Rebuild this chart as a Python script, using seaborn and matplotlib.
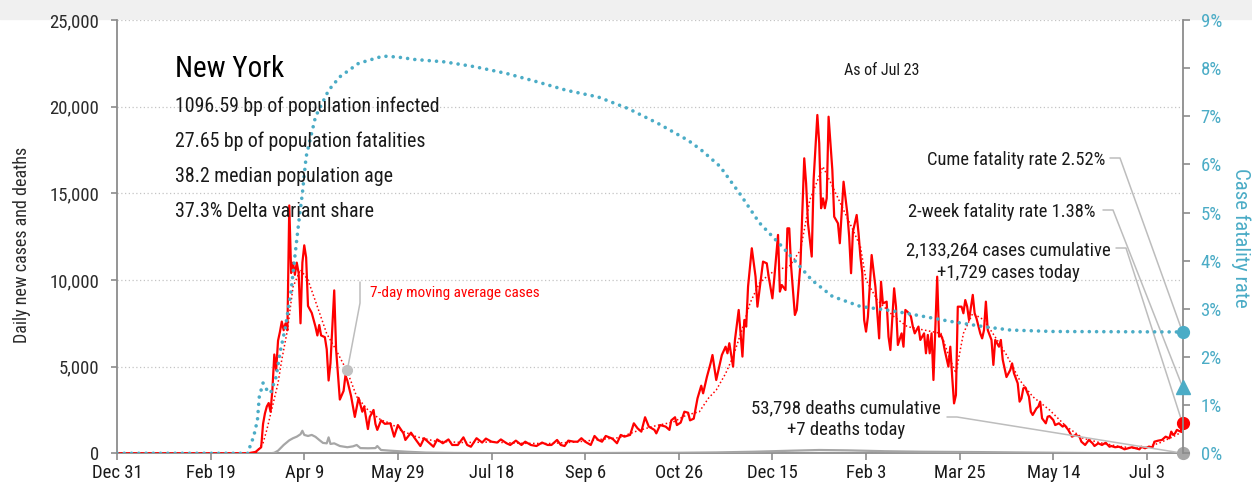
import pandas as pd
import matplotlib
matplotlib.use("Agg")
import matplotlib.pyplot as plt
import matplotlib.dates as mdates
from matplotlib import font_manager
import seaborn as sns

start = pd.Timestamp("2019-12-31")

# daily new cases (days after Dec 31 2019)
case_days = [0, 70, 74, 77, 78, 79, 80, 81, 82, 83, 84, 85, 86, 87, 88, 89, 90, 91, 92, 93, 94, 95, 96, 97,
             98, 99, 100, 101, 102, 104, 106, 107, 108, 109, 111, 112, 113, 114, 116, 117, 119, 121, 122, 123,
             125, 127, 129, 131, 132, 134, 135, 137, 138, 139, 141, 143,
             146, 148, 150, 153, 154, 157, 159, 162, 164, 166, 169, 171, 174, 177, 179, 182, 185, 187, 189,
             192, 195, 197, 200, 203, 205, 208, 210, 213, 216, 218, 221, 224, 227, 230, 232, 235, 237, 239,
             241, 244, 246, 248, 250, 253, 255, 257, 259, 261, 264, 265, 267, 269, 271, 274, 276, 278, 280,
             282, 284, 287, 288, 290, 293, 295, 296, 298, 299, 301, 303, 305, 306, 308,
             310, 312, 313, 315, 317, 318, 320, 321, 323, 325, 326, 327, 329, 330, 332, 334, 335, 336, 337,
             339, 341, 342, 345, 347, 348, 350, 351, 353, 354, 355, 357, 358, 359, 360, 362, 363, 365, 367,
             368, 369, 371, 372, 374, 375, 376, 377, 378, 379, 380, 382, 383, 385, 386, 387, 388, 390, 391,
             392, 393, 395, 396, 397, 398, 399, 400, 401, 403, 405, 407, 408, 409, 411, 412, 413, 415, 416,
             417, 419, 420, 421, 423, 424, 425, 426, 428, 429, 431, 432, 433, 434, 435, 436, 438, 439, 440,
             441, 442, 444, 445, 446, 447, 448, 449, 451, 452, 453, 454, 455, 457, 458, 459, 461, 462, 463,
             464, 465, 467, 468, 469,
             471, 472, 473, 475, 477, 478, 479, 481, 482, 483, 484, 485, 487, 488, 489, 491, 492, 493, 494,
             496, 497, 498, 500, 501, 503, 505, 506, 508, 510, 512, 514, 515, 517, 519, 521, 522, 524, 526,
             528, 530, 531, 533, 535, 537, 538, 540, 542, 544, 546, 547, 549, 551, 553, 554, 556, 558, 560,
             562, 563, 564, 565, 566, 568, 569]
case_vals = [0, 0, 80, 350, 1700, 2300, 2700, 2900, 2400, 3700, 5700, 4800, 6500, 7000, 7600, 7100, 7500, 7100,
             14300, 10400, 11000, 10300, 11000, 10400,
             7500, 11000, 12000, 11300, 8500, 8100, 7300, 6800, 7400, 6800, 6700, 6000, 4200, 5200, 9400, 6000,
             3100, 3600, 4500, 4200,
             3300, 2100, 3200, 2400, 2700, 1400, 2100, 2500, 1700, 1350, 1900, 1700,
             1730, 960, 1630, 1150, 770, 1190, 870, 420, 870, 670, 380, 800, 580, 800, 480, 480, 920, 480, 380,
             870, 620, 850, 670, 620, 800, 580, 480, 730, 480, 670, 480, 420, 620, 480, 480, 770, 480, 420,
             730, 670, 670, 870, 670, 480, 1000, 770, 670, 1000, 870, 800, 580, 1060, 960, 1060, 1730, 1440, 1250,
             2080, 1540, 1350, 1150, 1630, 1540, 1350, 1900, 2080, 1630, 1770, 2400, 2340, 1900, 2000,
             3170, 3900, 3460, 4400, 5200, 5670, 4230, 4710, 5670, 6150, 5770, 6350, 5000, 6540, 8270, 5580, 7690,
             7310, 9620,
             11830, 10190, 8460, 11060, 10960, 10190, 8940, 10100, 12600, 9330, 9710, 9420, 12980, 12980, 10770,
             7980, 8270, 10960, 17020,
             15580, 13270, 11350, 15770, 19520, 17890, 14140, 14710, 14140, 14710, 19420, 16350, 13650, 13270,
             12120, 13850, 15670, 13850, 12500,
             10390, 12790, 13750, 12700, 11350, 10390, 7690, 7020, 7880, 11440, 9620, 6630, 9900, 8650, 8750,
             6730, 5960, 9520, 8460,
             6250, 6920, 6150, 8270, 8080, 7880, 7310, 6920, 7310, 6540, 6920, 5770, 6830, 5770, 6920, 4230,
             10190, 6730, 6830,
             6540, 5960, 5000, 6150, 4420, 2880, 3360, 8460, 8460, 8080, 8840, 8460, 7690, 9140, 8080, 7780,
             6920, 6630, 7110,
             8750, 7110, 6540, 5100, 6540,
             6150, 6540, 5400, 4400, 4800, 5190, 4620, 4040, 2980, 3170, 3750, 3810, 3270, 2400, 2210, 2590,
             2690, 2980, 2020,
             1730, 2110, 2150, 1920, 1630, 1730, 1540, 1630, 1350, 960, 1060, 960, 670, 480, 770, 575, 420, 575,
             480,
             610, 380, 420, 350, 380, 290, 230, 290, 350, 290, 230, 380, 290, 380, 350, 670, 730, 770, 960,
             865, 1250, 1060, 1150, 1350, 1250, 1729]

# 7-day moving average of cases
ma_days = [0, 74, 78, 80, 83, 86, 88, 91, 94, 98, 102, 107, 112, 117, 123, 128, 134, 141, 146, 152, 160, 170,
           185, 200, 215, 230, 245, 258, 268, 278, 288, 297, 304, 311, 316, 320, 325, 329, 334, 338, 343, 348,
           352, 359, 365, 370, 377, 383, 388, 393, 397, 400, 406, 415, 422, 431, 440, 445, 448, 452, 457, 463,
           470, 475, 482, 489, 498, 507, 516, 525, 534, 543, 550, 557, 564, 569]
ma_vals = [0, 0, 600, 1350, 2700, 4050, 5400, 7100, 9600, 10600, 10000, 8460, 6900, 5960, 4710, 3270, 2500,
           1920, 1730, 1300, 950, 700, 620, 650, 580, 560, 650, 800, 900, 1300, 1600, 1800, 2200, 2400, 3200,
           3650, 4600, 5580, 7200, 8650, 9810, 10300, 10580, 10770, 11730, 14620, 16540, 15190, 14040, 12890,
           11920, 10000, 8840, 7880, 7310, 7110, 6920, 5380, 4620, 6920, 8080, 7690, 6540, 5680, 4230, 3270,
           2500, 1540, 865, 610, 420, 290, 350, 610, 960, 1250]

# daily new deaths
death_days = [0, 82, 84, 86, 89, 92, 94, 96, 98, 99, 100, 102, 104, 106, 108, 110, 112, 113, 114, 116, 119,
              123, 126, 128, 130, 134, 138, 139, 141, 146, 155, 165, 180, 200, 250, 280, 300, 320, 340, 360,
              375, 390, 410, 430, 460, 490, 520, 545, 569]
death_vals = [0, 0, 30, 150, 480, 750, 870, 960, 1100, 1300, 1060, 1000, 1060, 950, 770, 600, 575, 920, 540,
              575, 420, 350, 400, 480, 300, 290, 300, 420, 190, 150, 90, 40, 20, 10, 15, 25, 30, 50, 90, 150,
              190, 170, 120, 90, 70, 40, 15, 5, 7]

# case fatality rate, percent
cfr_days = [0, 70, 71, 73, 75, 76, 78, 80, 82, 85, 87, 90, 93, 95, 97, 99, 101, 106, 113, 119, 129, 142, 150,
            159, 175, 191, 208, 224, 240, 257, 273, 289, 305, 312, 322, 333, 343, 355, 362, 371, 382, 397, 414,
            427, 445, 463, 477, 500, 569]
cfr_vals = [0, 0, 0.14, 0.35, 0.69, 1.18, 1.46, 1.32, 1.25, 1.59, 2.08, 2.63, 3.39, 4.09, 4.78, 5.4, 6.16, 6.99,
            7.54, 7.82, 8.1, 8.25, 8.23, 8.18, 8.13, 8.03, 7.89, 7.72, 7.54, 7.4, 7.16, 6.85, 6.5, 6.3, 5.96,
            5.37, 4.79, 4.3, 4.0, 3.6, 3.26, 3.05, 2.96, 2.87, 2.74, 2.63, 2.56, 2.53, 2.52]

last_day = 569
cum_cfr = 2.52
two_week_cfr = 1.38
cases_today = 1729
deaths_today = 7
ma_note_day = 123
ma_note_val = 4800

stats = ["1096.59 bp of population infected",
         "27.65 bp of population fatalities",
         "38.2 median population age",
         "37.3% Delta variant share"]
tick_days = list(range(0, 569, 50))
left_ticks = [0, 5000, 10000, 15000, 20000, 25000]

RED = "#ff0000"
TEAL = "#4bacc6"
GRAY = "#a6a6a6"
SPINE = "#8c8c8c"
LEADER = "#bdbdbd"
INK = "#1a1a1a"

sns.set_style("white")
installed = {f.name for f in font_manager.fontManager.ttflist}
font = next((f for f in ["Liberation Sans Narrow", "Roboto Condensed", "Open Sans Condensed"] if f in installed),
            "DejaVu Sans")
plt.rcParams["font.family"] = [font, "DejaVu Sans"]


def to_dates(days):
    return [start + pd.Timedelta(days=d) for d in days]


def d2x(day):
    return mdates.date2num(start + pd.Timedelta(days=day))


W, H = 1252, 488
fig = plt.figure(figsize=(W / 100, H / 100), dpi=100)
fig.add_artist(plt.Rectangle((0, 1 - 19 / H), 1, 19 / H, transform=fig.transFigure,
                             color="#f0f0f0", zorder=0))
ax = fig.add_axes([117 / W, (H - 453.3) / H, (1182.5 - 117) / W, (453.3 - 20) / H])

sns.lineplot(x=to_dates(death_days), y=death_vals, ax=ax, color=GRAY, linewidth=1.6, zorder=3)
sns.lineplot(x=to_dates(case_days), y=case_vals, ax=ax, color=RED, linewidth=1.6, zorder=4)
sns.lineplot(x=to_dates(ma_days), y=ma_vals, ax=ax, color=RED, linewidth=1.1,
             linestyle=(0, (1, 1.6)), zorder=5)

ax.set_xlim(d2x(0), d2x(last_day))
ax.set_ylim(0, 25000)
ax.set_yticks(left_ticks)
ax.set_yticklabels([f"{v:,}" for v in left_ticks])
ax.set_xticks([d2x(d) for d in tick_days])
ax.set_xticklabels([f"{(start + pd.Timedelta(days=d)):%b} {(start + pd.Timedelta(days=d)).day}"
                    for d in tick_days])
ax.yaxis.grid(True, linestyle=(0, (1, 2)), color="#c4c4c4", linewidth=0.9)
ax.xaxis.grid(False)
ax.set_axisbelow(True)
for s in ["top", "right"]:
    ax.spines[s].set_visible(False)
for s in ["left", "bottom"]:
    ax.spines[s].set_color(SPINE)
    ax.spines[s].set_linewidth(1.3)
ax.tick_params(axis="y", length=4, width=1.2, color=SPINE, pad=9, labelsize=13.5, labelcolor="#2b2b2b")
ax.tick_params(axis="x", length=5, width=1.2, color=SPINE, pad=3, labelsize=13.5, labelcolor=INK)
ax.tick_params(left=True, bottom=True)
ax.set_xlabel("")
ax.set_ylabel("")

ax2 = ax.twinx()
sns.lineplot(x=to_dates(cfr_days), y=cfr_vals, ax=ax2, color=TEAL, linewidth=2.6,
             linestyle=(0, (0.01, 2.0)), dash_capstyle="round", zorder=6)
ax2.set_xlim(d2x(0), d2x(last_day))
ax2.set_ylim(0, 9)
ax2.set_yticks(range(10))
ax2.set_yticklabels([f"{i}%" for i in range(10)])
for s in ["top", "left", "bottom"]:
    ax2.spines[s].set_visible(False)
ax2.spines["right"].set_color(SPINE)
ax2.spines["right"].set_linewidth(1.3)
ax2.tick_params(axis="y", length=5, width=1.2, color=SPINE, pad=8, labelsize=13.5, labelcolor=TEAL)
ax2.set_ylabel("")

# axis titles
fig.text(22 / W, 1 - 245 / H, "Daily new cases and deaths", rotation=90, ha="center", va="center",
         fontsize=13, color="#2b2b2b")
fig.text(1241 / W, 1 - 238 / H, "Case fatality rate", rotation=270, ha="center", va="center",
         fontsize=15, color=TEAL)

# end-of-series markers
xe = d2x(last_day)
ax.plot([xe], [deaths_today], "o", color=GRAY, markersize=8.5, clip_on=False, zorder=8)
ax.plot([xe], [cases_today], "o", color=RED, markersize=8.5, clip_on=False, zorder=8)
ax2.plot([xe], [cum_cfr], "o", color=TEAL, markersize=8.5, clip_on=False, zorder=8)
ax2.plot([xe], [two_week_cfr], "^", color=TEAL, markersize=9.5, clip_on=False, zorder=8)
ax.plot([d2x(ma_note_day)], [ma_note_val], "o", color="#c0c0c0", markersize=7, zorder=8)


# text blocks (pixel positions, measured from the top)
def ftext(px, py, s, **kw):
    fig.text(px / W, 1 - py / H, s, va="baseline", **kw)


ftext(175, 77, "New York", fontsize=21, color="black")
for i, line in enumerate(stats):
    ftext(175, 112 + 35 * i, line, fontsize=14.3, color=INK)
ftext(844, 75, "As of Jul 23", fontsize=11.5, color=INK)
ftext(370, 297, "7-day moving average cases", fontsize=11, color=RED)
ftext(1105, 165, f"Cume fatality rate {cum_cfr:.2f}%", fontsize=13.3, color=INK, ha="right")
ftext(1096, 217, f"2-week fatality rate {two_week_cfr:.2f}%", fontsize=13.3, color=INK, ha="right")
ftext(1008, 255, "2,133,264 cases cumulative", fontsize=13.5, color=INK, ha="center")
ftext(1008, 278, f"+{cases_today:,} cases today", fontsize=13.5, color=INK, ha="center")
ftext(846, 413, "53,798 deaths cumulative", fontsize=13.5, color=INK, ha="center")
ftext(846, 435, f"+{deaths_today} deaths today", fontsize=13.5, color=INK, ha="center")

# leader lines
inv = ax.transData.inverted()


def px2data(px, py):
    return inv.transform((px, H - py))


def leader(points_px, target):
    pts = [px2data(px, py) for px, py in points_px] + [target]
    ax.plot([p[0] for p in pts], [p[1] for p in pts], color=LEADER, linewidth=1.1,
            clip_on=False, zorder=7)


pct = 25000 / 9
leader([(360, 282), (360, 303)], (d2x(ma_note_day), ma_note_val))
leader([(1110, 158), (1120, 158)], (xe, cum_cfr * pct))
leader([(1103, 210), (1113, 210)], (xe, two_week_cfr * pct))
leader([(1116, 248), (1126, 248)], (xe, cases_today))
leader([(947, 417), (957, 417)], (xe, deaths_today))

fig.savefig("out.png", dpi=100)
